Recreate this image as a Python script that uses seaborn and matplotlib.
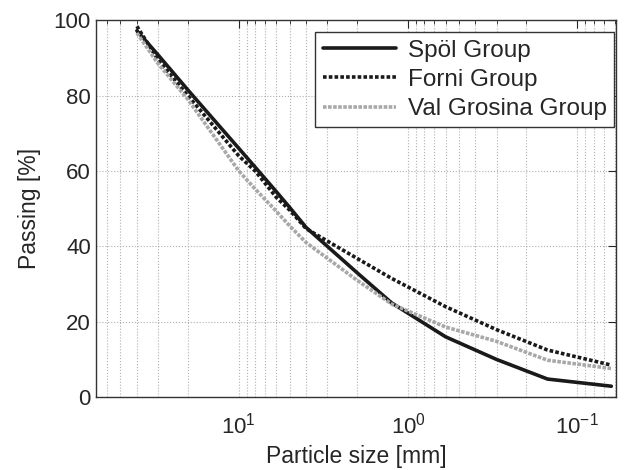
# Grain size distribution curves
import numpy as np
import pandas as pd
import matplotlib
matplotlib.use("Agg")
import matplotlib.pyplot as plt
import matplotlib.ticker as mticker
import seaborn as sns

# values
size_mm = [40, 30, 20, 10, 8, 6, 5, 4, 2, 1.25, 0.6, 0.3, 0.15, 0.063]
spol = [97.2, 90.8, 81.5, 66, 61, 54.5, 50.3, 45, 33, 25, 16, 10, 4.8, 2.9]
forni = [98.4, 89.5, 80, 64, 60, 53, 49.6, 44.7, 36.8, 31.5, 24, 17.9, 12.5, 8.5]
grosina = [96.6, 88.5, 79, 60, 55.2, 49.3, 45.4, 41, 31, 24.7, 18.6, 14.8, 9.8, 7.6]
groups = ["Spöl Group", "Forni Group", "Val Grosina Group"]

df = pd.DataFrame({
    "size": size_mm * 3,
    "passing": spol + forni + grosina,
    "group": np.repeat(groups, len(size_mm)),
})

sns.set_style("white")
plt.rcParams["font.family"] = ["Liberation Sans", "DejaVu Sans"]
plt.rcParams["mathtext.fontset"] = "custom"
plt.rcParams["mathtext.rm"] = "Liberation Sans"

fig = plt.figure(figsize=(6.3, 4.7), dpi=100)
ax = fig.add_axes([0.152, 0.155, 0.826, 0.802])

styles = {
    "Spöl Group": dict(color="#1a1a1a", linestyle="-", linewidth=2.6),
    "Forni Group": dict(color="#1a1a1a", linestyle=(0, (1, 0.6)), linewidth=2.6),
    "Val Grosina Group": dict(color="#a8a8a8", linestyle=(0, (1, 0.4)), linewidth=2.6),
}
for g in groups:
    sub = df[df["group"] == g]
    sns.lineplot(data=sub, x="size", y="passing", ax=ax, label=g,
                 sort=False, estimator=None, **styles[g])

ax.set_xscale("log")
ax.set_xlim(70, 0.059)
ax.set_ylim(0, 100)
ax.set_yticks([0, 20, 40, 60, 80, 100])
ax.xaxis.set_minor_locator(mticker.LogLocator(base=10, subs=np.arange(2, 10)))
ax.xaxis.set_minor_formatter(mticker.NullFormatter())

ax.grid(True, which="major", color="#b0b0b0", linestyle=":", linewidth=0.8)
ax.grid(True, which="minor", axis="x", color="#b0b0b0", linestyle=":", linewidth=0.8)
ax.tick_params(which="both", direction="in", top=True, right=True, labelsize=16)
ax.tick_params(which="major", length=6)
ax.tick_params(which="minor", length=3)
ax.tick_params(axis="x", which="major", pad=11)
for s in ax.spines.values():
    s.set_color("#333333")
    s.set_linewidth(1.0)

ax.set_xlabel("Particle size [mm]", fontsize=16.5, labelpad=5)
ax.set_ylabel("Passing [%]", fontsize=16.5, labelpad=9)

leg = ax.legend(loc="upper right", bbox_to_anchor=(0.996, 0.968),
                fontsize=17.5, handlelength=3.0,
                frameon=True, fancybox=False, edgecolor="#333333",
                framealpha=1, borderpad=0.3, labelspacing=0.3,
                handletextpad=0.5, borderaxespad=0)
leg.get_frame().set_linewidth(1.0)

fig.savefig("out.png", dpi=100)
